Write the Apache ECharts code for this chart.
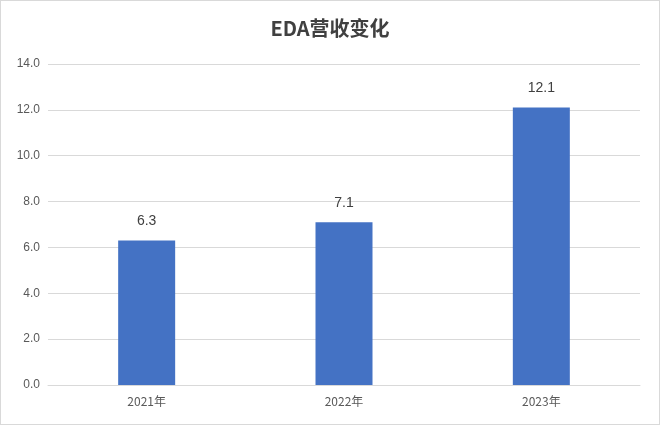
<!DOCTYPE html>
<html>
<head>
<meta charset="utf-8">
<script src="https://cdn.jsdelivr.net/npm/echarts@6/dist/echarts.min.js"></script>
<style>
	html, body { margin: 0; padding: 0; background: #fff; }
	#chart { width: 658px; height: 423px; border: 1px solid #d9d9d9; }
</style>
</head>
<body>
<div id="chart"></div>
<script>
var categories = ['2021年', '2022年', '2023年'];
var revenue = [6.3, 7.1, 12.1];

var chart = echarts.init(document.getElementById('chart'));
var option = {
	title: {
		text: 'EDA营收变化',
		left: 'center',
		top: 12,
		textStyle: {
			fontFamily: 'Noto Sans CJK SC',
			fontSize: 20,
			fontWeight: 'bold',
			color: '#404040'
		}
	},
	grid: {
		left: 47,
		right: 19,
		top: 63,
		bottom: 39
	},
	xAxis: {
		type: 'category',
		data: categories,
		axisTick: { show: false },
		axisLine: { lineStyle: { color: '#d9d9d9' } },
		axisLabel: {
			color: '#595959',
			fontSize: 12,
			fontFamily: 'Noto Sans CJK SC',
			margin: 10
		}
	},
	yAxis: {
		type: 'value',
		min: 0,
		max: 14,
		interval: 2,
		axisLabel: {
			color: '#595959',
			fontSize: 12,
			formatter: function (v) { return v.toFixed(1); }
		},
		splitLine: { lineStyle: { color: '#d9d9d9' } }
	},
	series: [{
		type: 'bar',
		data: revenue,
		barWidth: 57,
		itemStyle: { color: '#4472C4' },
		label: {
			show: true,
			position: 'top',
			distance: 12,
			color: '#404040',
			fontSize: 14,
			formatter: function (p) { return p.value.toFixed(1); }
		}
	}]
};
chart.setOption(option);
</script>
</body>
</html>
